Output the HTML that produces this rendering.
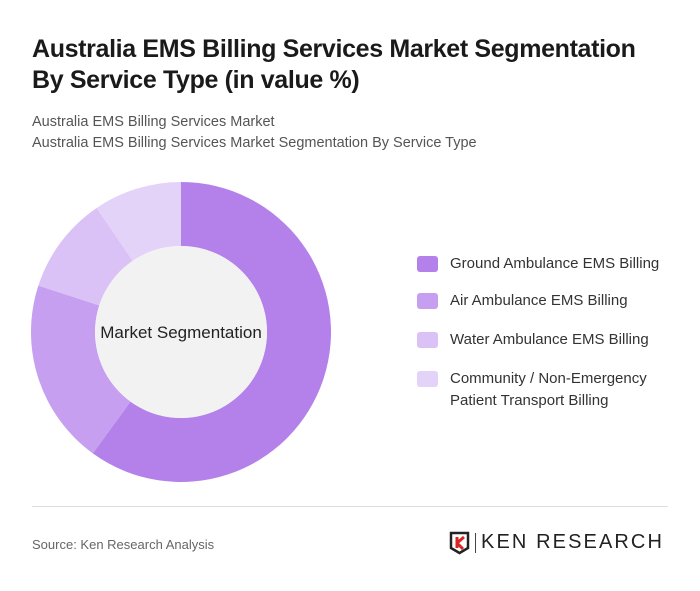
<!DOCTYPE html>
<html><head><meta charset="utf-8"><style>
body{margin:0;width:700px;height:591px;background:#fff;font-family:"Liberation Sans",sans-serif;position:relative;overflow:hidden}
.t{position:absolute;left:32px;top:34px;font-size:25px;font-weight:bold;color:#1a1a1a;line-height:31px;letter-spacing:-0.35px}
.s{position:absolute;left:32px;font-size:14.5px;color:#555}
.leg{position:absolute;left:417px;font-size:15px;color:#333;line-height:22px}
.sw{position:absolute;left:0;top:3px;width:21px;height:16px;border-radius:3px}
.lt{position:absolute;left:33px;top:0;white-space:nowrap}
</style></head><body>
<div class="t">Australia EMS Billing Services Market Segmentation<br>By Service Type (in value %)</div>
<div class="s" style="top:114px">Australia EMS Billing Services Market</div>
<div class="s" style="top:135px">Australia EMS Billing Services Market Segmentation By Service Type</div>
<svg id="ch" width="700" height="591" style="position:absolute;left:0;top:0"></svg>
<div class="leg" style="top:253px"><div class="sw" style="background:#b481ea"></div><div class="lt">Ground Ambulance EMS Billing</div></div>
<div class="leg" style="top:290px"><div class="sw" style="background:#c69ff0"></div><div class="lt">Air Ambulance EMS Billing</div></div>
<div class="leg" style="top:329px"><div class="sw" style="background:#dac1f6"></div><div class="lt">Water Ambulance EMS Billing</div></div>
<div class="leg" style="top:368px"><div class="sw" style="background:#e4d3f8"></div><div class="lt">Community / Non-Emergency<br>Patient Transport Billing</div></div>
<div style="position:absolute;left:32px;top:506px;width:636px;height:1px;background:#ddd"></div>
<div style="position:absolute;left:32px;top:537px;font-size:13px;color:#666">Source: Ken Research Analysis</div>
<div style="position:absolute;left:449px;top:531px">
<svg width="22" height="24" style="position:absolute;left:0;top:0"><path d="M2 2h17v15l-8.5 5L2 17z" fill="none" stroke="#222" stroke-width="2.5"/><path d="M8 6v11M8 12l7-6M8 12l6 6" stroke="#d22" stroke-width="3" fill="none"/></svg>
<div style="position:absolute;left:26px;top:2px;width:1px;height:20px;background:#444"></div>
<div style="position:absolute;left:32px;top:0px;font-size:20px;letter-spacing:2.1px;color:#222;white-space:nowrap">KEN RESEARCH</div>
</div>
<script>
const categories=["Ground Ambulance EMS Billing","Air Ambulance EMS Billing","Water Ambulance EMS Billing","Community / Non-Emergency Patient Transport Billing"];
const values=[60,20,10.5,9.5];
const colors=["#b481ea","#c69ff0","#dac1f6","#e4d3f8"];
const svg=document.getElementById('ch');const NS="http://www.w3.org/2000/svg";
const cx=181,cy=332,R=150,r=86;
const tot=values.reduce((a,b)=>a+b,0);
let a0=0;
function pt(a,rad){return [cx+rad*Math.sin(a),cy-rad*Math.cos(a)];}
values.forEach((v,i)=>{
 const a1=a0+v/tot*2*Math.PI;const lg=(a1-a0)>Math.PI?1:0;
 const p1=pt(a0,R),p2=pt(a1,R),p3=pt(a1,r),p4=pt(a0,r);
 const p=document.createElementNS(NS,'path');
 p.setAttribute('d',`M${p1}A${R},${R} 0 ${lg} 1 ${p2}L${p3}A${r},${r} 0 ${lg} 0 ${p4}Z`);
 p.setAttribute('fill',colors[i]);
 
 
 svg.appendChild(p);a0=a1;
});
const c=document.createElementNS(NS,'circle');c.setAttribute('cx',cx);c.setAttribute('cy',cy);c.setAttribute('r',r);c.setAttribute('fill','#f2f2f2');


svg.appendChild(c);
const t=document.createElementNS(NS,'text');t.setAttribute('x',cx);t.setAttribute('y',cy+6);t.setAttribute('text-anchor','middle');t.setAttribute('font-size','17');t.setAttribute('fill','#222');t.setAttribute('font-family','Liberation Sans, sans-serif');t.textContent='Market Segmentation';


svg.appendChild(t);
</script>
</body></html>
